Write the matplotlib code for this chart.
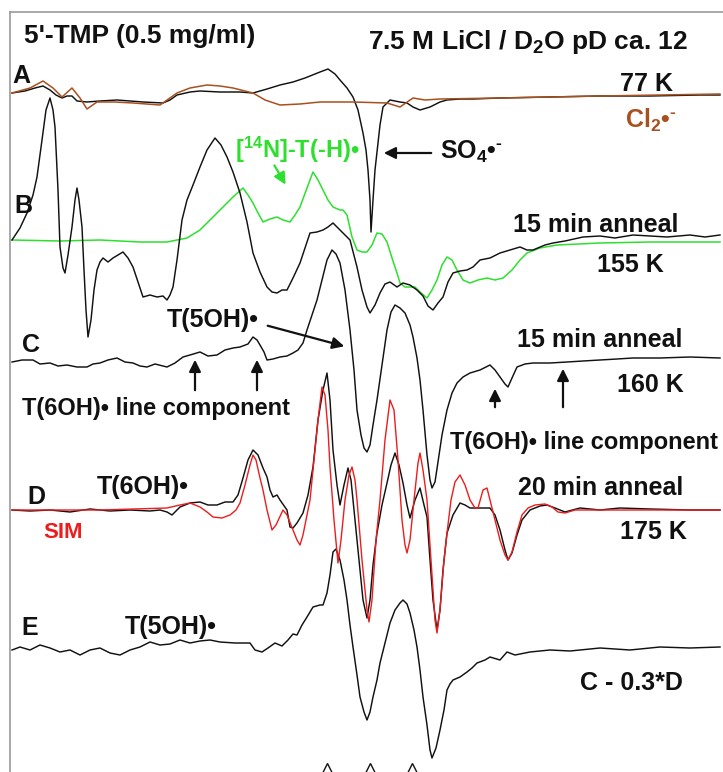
import numpy as np
import matplotlib.pyplot as plt

plt.rcParams['font.family'] = ['Liberation Sans', 'DejaVu Sans']
plt.rcParams['mathtext.fontset'] = 'custom'
plt.rcParams['mathtext.rm'] = 'Liberation Sans:bold'
plt.rcParams['mathtext.bf'] = 'Liberation Sans:bold'
plt.rcParams['mathtext.it'] = 'Liberation Sans:bold'

# spectra: (field position, signal relative to own baseline)
a_black = [(12, 1), (25, 3), (35, 6), (43, 8), (50, 4), (56, -1), (62, -4), (67, -2), (72, -2),
           (77, -7), (87, -8), (100, -7), (117, -6), (130, -7), (143, -8), (163, -9), (170, -6),
           (177, -1), (190, 2), (200, 3), (220, 2), (240, 2), (253, 1), (267, 5), (280, 9),
           (293, 12), (305, 16), (320, 22), (328, 25), (335, 20), (340, 14), (347, 6), (353, -3),
           (358, -16), (363, -39), (366, -56), (368, -76), (370, -106), (371, -138), (373, -106),
           (375, -76), (378, -49), (380, -31), (383, -13), (390, -6), (400, -8), (407, -9),
           (413, -13), (420, -16), (430, -13), (440, -8), (447, -6), (460, -5), (473, -5),
           (500, -4), (550, -3), (600, -2), (650, -2), (700, -1), (720, -1)]

a_cl2 = [(12, 1), (30, 6), (43, 13), (53, 6), (62, -3), (72, 6), (80, -4), (87, -15), (97, -8),
         (115, -8), (133, -9), (160, -11), (177, 1), (190, 6), (207, 9), (220, 8), (233, 6),
         (253, 1), (265, -6), (280, -11), (300, -10), (320, -8), (353, -8), (387, -9), (400, -13),
         (413, -4), (425, -6), (440, -5), (500, -4), (600, -2), (720, 0)]

b_black = [(12, 0), (20, 12), (27, 27), (33, 45), (37, 63), (42, 100), (46, 130), (50, 142),
           (53, 130), (55, 113), (58, 50), (60, -7), (63, -28), (65, -33), (68, -15), (72, 13),
           (75, 40), (77, 52), (79, 40), (82, 13), (84, -30), (86, -70), (88, -97), (91, -80),
           (94, -50), (97, -30), (100, -22), (103, -18), (108, -22), (113, -18), (118, -15),
           (123, -12), (128, -18), (133, -27), (138, -42), (143, -57), (150, -55), (157, -57),
           (163, -56), (167, -60), (170, -55), (173, -47), (177, -20), (182, 20), (187, 40),
           (193, 55), (200, 73), (207, 90), (215, 102), (221, 95), (227, 83), (233, 68), (240, 47),
           (247, 18), (253, -13), (260, -32), (267, -47), (272, -52), (277, -53), (282, -50),
           (287, -50), (293, -38), (300, -23), (305, -8), (310, 7), (317, 8), (323, 10), (328, 13),
           (333, 17), (338, 12), (343, 7), (350, 0), (357, -27), (362, -50), (367, -67), (370, -73),
           (375, -65), (380, -53), (385, -44), (390, -42), (397, -47), (403, -43), (410, -45),
           (417, -50), (423, -56), (428, -66), (433, -70), (438, -63), (443, -57), (448, -42),
           (453, -33), (460, -31), (467, -30), (473, -27), (480, -20), (490, -18), (500, -13),
           (510, -10), (520, -7), (527, -10), (533, -10), (545, -5), (553, -3), (565, -1), (583, 3),
           (600, 4), (615, 2), (633, 5), (650, 4), (667, 3), (690, 5), (705, 3), (720, 5)]

b_14n = [(12, 0), (60, -1), (100, 0), (140, -2), (167, -2), (187, 2), (200, 10), (213, 23),
         (225, 35), (233, 43), (243, 52), (248, 45), (253, 37), (258, 27), (263, 18), (270, 21),
         (277, 23), (283, 20), (290, 18), (295, 25), (300, 33), (307, 52), (313, 68), (318, 60),
         (323, 50), (328, 40), (333, 33), (340, 30), (343, 30), (347, 25), (352, 3), (357, -10),
         (362, -12), (367, -12), (372, -5), (377, 7), (382, 6), (387, -2), (392, -18), (397, -33),
         (400, -43), (405, -47), (410, -47), (415, -47), (420, -52), (427, -58), (432, -50),
         (437, -40), (442, -25), (447, -17), (452, -20), (457, -30), (463, -40), (470, -43),
         (478, -40), (487, -38), (495, -40), (503, -38), (512, -30), (520, -20), (527, -13),
         (540, -8), (557, -5), (600, -3), (650, -2), (720, -2)]

c_black = [(12, -2), (22, 0), (33, 0), (40, -4), (50, -3), (58, -6), (67, -5), (77, -7), (87, -7),
           (93, -4), (100, -3), (108, 0), (117, 2), (125, -2), (133, -3), (140, -6), (147, -7),
           (155, -4), (167, -7), (175, -3), (183, 3), (190, 5), (200, 8), (208, 4), (217, 5),
           (225, 10), (233, 12), (240, 13), (248, 16), (253, 23), (257, 20), (260, 15), (264, 8),
           (267, 0), (273, 1), (280, 3), (287, 4), (293, 7), (298, 10), (303, 17), (307, 30),
           (312, 45), (317, 60), (322, 80), (327, 100), (332, 110), (336, 106), (340, 97),
           (345, 70), (350, 30), (354, -10), (357, -50), (361, -75), (364, -88), (367, -92),
           (370, -85), (373, -65), (377, -40), (382, -5), (387, 30), (391, 48), (395, 55),
           (400, 52), (405, 47), (410, 35), (413, 23), (417, 2), (420, -20), (423, -50), (427, -95),
           (430, -120), (432, -128), (435, -122), (438, -102), (442, -75), (447, -50), (452, -33),
           (457, -23), (463, -17), (470, -13), (480, -10), (490, -5), (495, -10), (500, -17),
           (505, -24), (508, -27), (512, -18), (517, -7), (525, -4), (533, -3), (550, -3),
           (567, -2), (583, -1), (600, 0), (617, 1), (633, 2), (660, 2), (690, 3), (720, 2)]

d_black = [(12, 0), (30, -1), (50, 0), (70, -2), (90, 1), (110, -1), (130, 0), (150, -1), (160, 0),
           (167, -2), (172, -5), (176, -1), (180, 3), (190, 7), (200, 8), (208, 5), (217, 5),
           (225, 8), (233, 8), (238, 15), (243, 32), (248, 50), (253, 60), (258, 55), (263, 42),
           (267, 33), (270, 20), (273, 13), (277, 15), (280, 10), (287, 0), (290, -17), (293, -18),
           (297, -13), (303, -3), (308, 15), (313, 43), (318, 90), (323, 120), (327, 137),
           (330, 110), (333, 60), (337, 25), (340, 5), (344, 25), (348, 42), (351, 30), (353, 10),
           (358, -40), (363, -90), (367, -108), (370, -90), (373, -55), (377, -23), (382, 5),
           (387, 27), (391, 45), (395, 57), (399, 45), (403, 27), (407, 5), (410, -8), (415, 10),
           (420, 22), (424, 5), (427, -7), (430, -50), (433, -90), (437, -120), (440, -100),
           (443, -60), (447, -23), (453, -5), (460, 7), (465, 5), (470, 2), (480, 2), (490, 2),
           (495, -5), (500, -20), (505, -40), (508, -50), (512, -43), (517, -25), (522, -10),
           (530, 0), (540, 4), (547, 5), (555, 2), (565, -2), (580, 2), (600, 0), (620, 2),
           (650, 1), (690, 0), (720, 0)]

d_sim = [(12, 0), (100, 0), (167, 2), (180, 5), (190, 7), (200, 3), (207, -2), (213, -7), (222, -8),
         (230, -5), (236, 0), (240, 7), (245, 25), (250, 45), (253, 55), (256, 50), (260, 32),
         (263, 20), (267, 0), (272, -20), (276, -15), (283, 0), (287, -5), (293, -20), (297, -30),
         (300, -35), (303, -25), (307, -5), (310, 10), (314, 50), (318, 90), (322, 123), (325, 115),
         (328, 80), (330, 43), (334, -10), (338, -53), (341, -30), (345, 10), (349, 35), (352, 43),
         (355, 30), (357, 10), (362, -50), (367, -100), (369, -112), (372, -90), (376, -30),
         (380, 10), (385, 70), (390, 110), (394, 100), (398, 50), (402, -10), (405, -35),
         (407, -43), (410, -30), (414, 10), (418, 47), (420, 57), (423, 40), (427, 10), (431, -50),
         (435, -110), (437, -123), (440, -100), (444, -50), (447, -23), (451, 10), (455, 28),
         (460, 35), (465, 25), (470, 10), (475, 2), (478, 2), (483, 20), (487, 22), (490, 10),
         (495, -10), (500, -30), (505, -45), (508, -50), (512, -42), (517, -22), (522, -5),
         (528, 2), (535, 5), (545, 6), (552, 3), (558, -2), (565, -3), (575, 0), (720, 0)]

e_black = [(12, -2), (20, 1), (30, -2), (40, 3), (50, 0), (60, -4), (70, -2), (80, -7), (90, -2),
           (100, 0), (110, -5), (120, -7), (130, -2), (140, 1), (150, 6), (160, 3), (170, 4),
           (180, 8), (190, 5), (200, 7), (210, 8), (220, 6), (235, 5), (250, 5), (255, -2),
           (262, -4), (268, 0), (275, 5), (282, 2), (288, 8), (293, 14), (297, 13), (302, 23),
           (307, 31), (313, 41), (320, 43), (323, 43), (327, 55), (330, 73), (333, 96), (336, 99),
           (340, 88), (344, 68), (347, 48), (350, 23), (353, 1), (357, -27), (360, -49), (364, -64),
           (367, -72), (370, -64), (373, -49), (377, -32), (380, -15), (385, 5), (390, 25),
           (395, 38), (400, 45), (403, 48), (407, 44), (410, 35), (414, 18), (417, 1), (420, -22),
           (423, -49), (427, -77), (430, -102), (432, -110), (436, -100), (440, -82), (444, -62),
           (447, -42), (450, -36), (453, -32), (460, -29), (467, -24), (472, -20), (477, -15),
           (485, -12), (490, -9), (500, -12), (507, -4), (515, -7), (530, -4), (550, -2),
           (570, -3), (600, 0), (630, -2), (660, 1), (690, 0), (720, 1)]

# reference line positions marked under spectrum E
marker_fields = [327, 370, 412]

# vertical offsets of each spectrum in the stack
offsets = {'A': 94, 'B': 240, 'C': 360, 'D': 510, 'E': 648}

black = '#111111'
brown = '#a8501e'
green = '#2ee02e'
red = '#ee1c1c'

fig = plt.figure(figsize=(7.23, 7.72), dpi=100)
ax = fig.add_axes([10 / 723, 0, 713 / 723, 760 / 772])
ax.set_xlim(10, 723)
ax.set_ylim(772, 12)
ax.set_xticks([])
ax.set_yticks([])
for s in ['right', 'bottom']:
    ax.spines[s].set_visible(False)
for s in ['top', 'left']:
    ax.spines[s].set_color('#999999')
    ax.spines[s].set_linewidth(1.2)


def trace(pts, key, color, lw=1.05, z=2):
    p = np.array(pts, dtype=float)
    ax.plot(p[:, 0], offsets[key] - p[:, 1], color=color, lw=lw, zorder=z)


trace(a_black, 'A', black)
trace(a_cl2, 'A', brown, lw=1.1)
trace(b_14n, 'B', green, lw=1.1)
trace(b_black, 'B', black)
trace(c_black, 'C', black)
trace(d_black, 'D', black)
trace(d_sim, 'D', red, lw=1.0, z=3)
trace(e_black, 'E', black)
ax.plot(marker_fields, [771] * len(marker_fields), ls='none', marker='^', ms=12,
        mfc='white', mec=black, mew=1.0, clip_on=False)

fs = 18
kw = dict(fontsize=fs, fontweight='bold', va='center', ha='left', color=black)
ax.text(24, 36, "5'-TMP (0.5 mg/ml)", **{**kw, 'fontsize': 19})
ax.text(368, 42, "7.5 M LiCl / D$_2$O pD ca. 12", **{**kw, 'fontsize': 19})
ax.text(12, 76, "A", **kw)
ax.text(620, 84, "77 K", **kw)
ax.text(625, 120, r"Cl$_2$•$^{\text{-}}$", **{**kw, 'color': brown})
ax.text(440, 152, r"SO$_4$•$^{\text{-}}$", **kw)
ax.text(235, 150, "[$^{14}$N]-T(-H)•", **{**kw, 'color': green, 'fontsize': 17})
ax.text(14, 206, "B", **kw)
ax.text(513, 225, "15 min anneal", **kw)
ax.text(597, 265, "155 K", **kw)
ax.text(167, 320, "T(5OH)•", **kw)
ax.text(22, 345, "C", **kw)
ax.text(517, 340, "15 min anneal", **kw)
ax.text(617, 385, "160 K", **kw)
ax.text(22, 408, "T(6OH)• line component", **{**kw, 'fontsize': 17})
ax.text(450, 443, "T(6OH)• line component", **{**kw, 'fontsize': 17})
ax.text(97, 487, "T(6OH)•", **kw)
ax.text(27, 497, "D", **kw)
ax.text(518, 488, "20 min anneal", **kw)
ax.text(43, 532, "SIM", **{**kw, 'color': red, 'fontsize': 16})
ax.text(620, 532, "175 K", **kw)
ax.text(21, 628, "E", **kw)
ax.text(125, 627, "T(5OH)•", **kw)
ax.text(580, 683, "C - 0.3*D", **kw)

arr = dict(arrowstyle='-|>,head_length=0.7,head_width=0.35', color=black, lw=1.6)
ax.annotate('', xy=(381, 153), xytext=(434, 153), arrowprops=arr)
ax.annotate('', xy=(347, 347), xytext=(265, 325), arrowprops=arr)
ax.annotate('', xy=(195, 357), xytext=(195, 393), arrowprops=arr)
ax.annotate('', xy=(257, 357), xytext=(257, 393), arrowprops=arr)
ax.annotate('', xy=(495, 386), xytext=(495, 410), arrowprops=arr)
ax.annotate('', xy=(563, 366), xytext=(563, 410), arrowprops=arr)
ax.annotate('', xy=(287, 187), xytext=(273, 163),
            arrowprops={**arr, 'color': green})

fig.savefig('out.png', dpi=100)
